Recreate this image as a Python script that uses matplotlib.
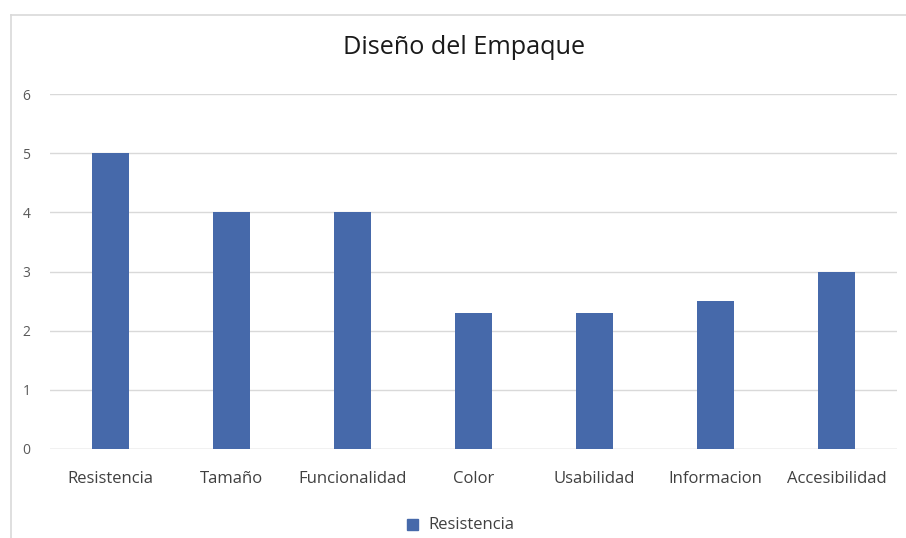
import matplotlib
matplotlib.use("Agg")
import matplotlib.pyplot as plt
from matplotlib.lines import Line2D
from matplotlib.patches import Rectangle

categories = ["Resistencia", "Tamaño", "Funcionalidad", "Color", "Usabilidad", "Informacion", "Accesibilidad"]
values = [5, 4, 4, 2.3, 2.3, 2.5, 3]
series_name = "Resistencia"
yticks = [0, 1, 2, 3, 4, 5, 6]
title = "Diseño del Empaque"

W, H = 906, 538
fig = plt.figure(figsize=(W / 100, H / 100), dpi=100)
fig.patch.set_facecolor("white")
plt.rcParams['font.family'] = ['Open Sans', 'DejaVu Sans']

ax = fig.add_axes([50 / W, 1 - 449 / H, (897 - 50) / W, (449 - 94) / H])
x = list(range(len(categories)))
bar_color = "#4669AA"
ax.bar(x, values, width=0.31, color=bar_color, zorder=3, label=series_name)
ax.set_xlim(-0.5, len(categories) - 0.5)
ax.set_ylim(0, 6)
ax.set_yticks(yticks)
ax.set_yticklabels([str(t) for t in yticks], fontsize=10, color="#595959")
ax.set_xticks(x)
ax.set_xticklabels(categories, fontsize=12, color="#404040")
ax.tick_params(axis="both", length=0)
ax.tick_params(axis="y", pad=14)
ax.tick_params(axis="x", pad=16)
ax.grid(axis="y", color="#d9d9d9", linewidth=1, zorder=0)
for s in ax.spines.values():
    s.set_visible(False)
ax.axhline(0, color="#d9d9d9", linewidth=1, zorder=2)

fig.text(464 / W, 1 - 48 / H, title, ha="center", va="center", fontsize=18.2, color="#1a1a1a")

# outer chart border
fig.add_artist(Line2D([11 / W, 1.0], [1 - 15 / H, 1 - 15 / H], color="#d9d9d9", linewidth=1.2))
fig.add_artist(Line2D([11 / W, 11 / W], [0, 1 - 15 / H], color="#d9d9d9", linewidth=1.2))

# legend
fig.add_artist(Rectangle((407 / W, 1 - 530 / H), 11 / W, 11 / H, color=bar_color, transform=fig.transFigure))
fig.text(428 / W, 1 - 525 / H, series_name, ha="left", va="center", fontsize=12, color="#404040")

fig.savefig("out.png", dpi=100)
